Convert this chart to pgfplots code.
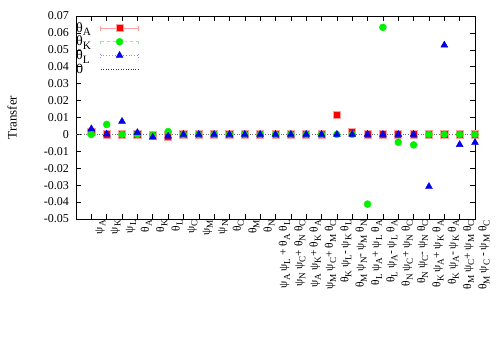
\documentclass[border=0pt]{standalone}
\usepackage{fontspec}
\setmainfont{Liberation Serif}
\usepackage{graphicx}
\usepackage{pgfplots}
\pgfplotsset{compat=1.18}
\definecolor{pA}{RGB}{255,0,0}
\definecolor{pAl}{RGB}{255,160,160}
\definecolor{pK}{RGB}{0,240,0}
\definecolor{pKl}{RGB}{140,245,140}
\definecolor{pL}{RGB}{0,0,235}
\definecolor{pLl}{RGB}{140,140,255}
\newcommand{\s}[1]{\raisebox{-0.27em}{\scalebox{0.8}{#1}}}
\newcommand{\lf}{\fontsize{14bp}{15bp}\selectfont}
\pgfplotsset{
  legA/.style={legend image code/.code={
    \draw[pAl, line width=0.8bp] (8bp,0bp)--(46bp,0bp) (8bp,-2.5bp)--(8bp,2.5bp) (46bp,-2.5bp)--(46bp,2.5bp);
    \draw[##1] plot coordinates {(27bp,0bp)};}},
  legK/.style={legend image code/.code={
    \draw[pKl, line width=0.8bp, dashed] (8bp,0bp)--(46bp,0bp) (8bp,-2.5bp)--(8bp,2.5bp) (46bp,-2.5bp)--(46bp,2.5bp);
    \draw[##1] plot coordinates {(27bp,0bp)};}},
  legL/.style={legend image code/.code={
    \draw[pLl, line width=0.8bp, dotted] (8bp,0bp)--(46bp,0bp) (8bp,-2.5bp)--(8bp,2.5bp) (46bp,-2.5bp)--(46bp,2.5bp);
    \draw[##1] plot coordinates {(27bp,0bp)};}},
  legZ/.style={legend image code/.code={
    \draw[black!80, dotted, line width=0.5bp] (8bp,0bp)--(46bp,0bp);}},
}
\begin{document}
\begin{tikzpicture}
\useasboundingbox (0bp,0bp) rectangle (500bp,350bp);
\begin{axis}[
  at={(76bp,131bp)}, anchor=south west,
  scale only axis, width=399bp, height=203bp,
  font=\fontsize{12bp}{14bp}\selectfont,
  xmin=0, xmax=26, ymin=-0.05, ymax=0.07,
  xtick={1,...,26},
  ytick={-0.05,-0.04,-0.03,-0.02,-0.01,0,0.01,0.02,0.03,0.04,0.05,0.06,0.07},
  xticklabels={
    ψ\s{A}, ψ\s{K}, ψ\s{L}, θ\s{A}, θ\s{K}, θ\s{L}, ψ\s{C}, ψ\s{M}, ψ\s{N}, θ\s{C}, θ\s{M}, θ\s{N},
    ψ\s{A} ψ\s{L} + θ\s{A} θ\s{L},
    ψ\s{N} ψ\s{C}+ θ\s{N} θ\s{C},
    ψ\s{A} ψ\s{K}+ θ\s{K} θ\s{A},
    ψ\s{M} ψ\s{C}+ θ\s{M} θ\s{C},
    θ\s{K} ψ\s{L}- ψ\s{K} θ\s{L},
    θ\s{M} ψ\s{N}- ψ\s{M} θ\s{N},
    θ\s{L} ψ\s{A}+ ψ\s{L} θ\s{A},
    θ\s{L} ψ\s{A}- ψ\s{L} θ\s{A},
    θ\s{N} ψ\s{C}+ ψ\s{N} θ\s{C},
    θ\s{N} ψ\s{C}- ψ\s{N} θ\s{C},
    θ\s{K} ψ\s{A}+ ψ\s{K} θ\s{A},
    θ\s{K} ψ\s{A}- ψ\s{K} θ\s{A},
    θ\s{M} ψ\s{C}+ ψ\s{M} θ\s{C},
    θ\s{M} ψ\s{C} - ψ\s{M} θ\s{C}},
  x tick label style={rotate=90, anchor=east, yshift=-9bp, inner sep=1bp,
    font=\fontsize{11.5bp}{13bp}\selectfont},
  y tick label style={/pgf/number format/fixed, /pgf/number format/precision=2, inner sep=1bp, xshift=-6bp},
  /pgf/number format/assume math mode=true,
  scaled y ticks=false,
  tick align=inside, major tick length=5bp,
  tick style={black, line width=0.5pt},
  axis line style={black, line width=0.6pt},
  ylabel={Transfer},
  every axis y label/.style={at={(axis description cs:-0.16,0.5)}, rotate=90, anchor=center,
    font=\fontsize{13bp}{15bp}\selectfont},
  legend style={at={(axis description cs:0,1)}, anchor=north west, yshift=-5bp, draw=none, fill=none,
    row sep=0pt, column sep=0pt, inner sep=0pt,
    nodes={text width=24bp, align=left, minimum height=13.7bp, inner sep=0pt}},
  legend cell align=left,
  legend plot pos=right,
]
\addplot[only marks, mark=square*, mark size=3.6bp, color=pA,
  mark options={fill=pA, draw=pAl, line width=0.8bp}, legA] table {
x y
1 0.0014
2 0
3 0
4 0
5 -0.0006
6 -0.0012
7 0
8 0
9 0
10 0
11 0
12 0
13 0
14 0
15 0
16 0
17 0.0116
18 0.0017
19 0
20 0
21 0
22 0
23 0
24 0
25 0
26 0
};
\addlegendentry{\lf θ\s{A}}
\addplot[only marks, mark=*, mark size=3.5bp, color=pK,
  mark options={fill=pK, draw=pK}, legK] table {
x y
1 0
2 0.0059
3 0
4 0
5 -0.0005
6 0.0017
7 0
8 0
9 0
10 0
11 0
12 0
13 0
14 0
15 0
16 0
17 0
18 0
19 -0.0412
20 0.0633
21 -0.0046
22 -0.0062
23 0
24 0
25 0
26 0
};
\addlegendentry{\lf θ\s{K}}
\addplot[only marks, mark=triangle*, mark size=4bp, color=pL,
  mark options={fill=pL, draw=pL}, legL] table {
x y
1 0.0033
2 0.0002
3 0.0077
4 0.0011
5 -0.0016
6 -0.0010
7 0
8 0
9 0
10 0
11 0
12 0
13 0
14 0
15 0
16 0
17 0
18 0
19 0
20 0
21 0
22 0
23 -0.0308
24 0.0528
25 -0.0060
26 -0.0048
};
\addlegendentry{\lf θ\s{L}}
\addplot[black!55, dotted, line width=0.6bp, mark=none, legZ] coordinates {(0,0) (26,0)};
\addlegendentry{\lf 0}
\end{axis}
\end{tikzpicture}
\end{document}
